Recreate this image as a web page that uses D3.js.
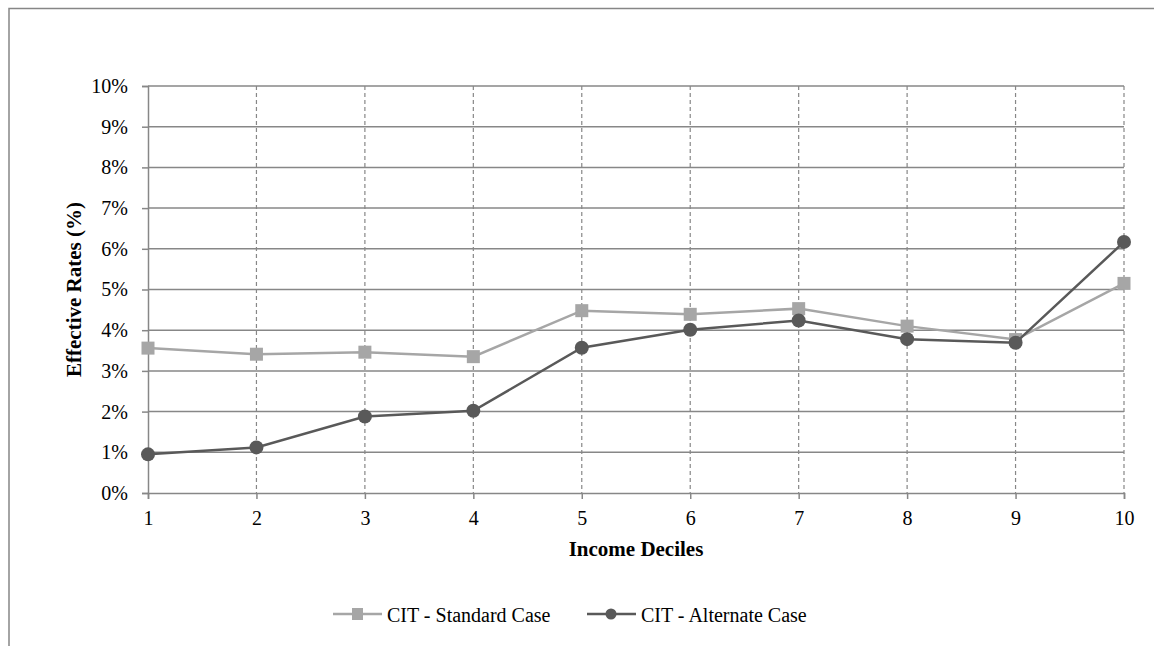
<!DOCTYPE html>
<html>
<head>
<meta charset="utf-8">
<script src="https://cdn.jsdelivr.net/npm/d3@7"></script>
<style>
  body { margin: 0; background: #fff; }
  svg text { font-family: "Liberation Serif", "Times New Roman", serif; fill: #000; }
</style>
</head>
<body>
<div id="chart"></div>
<script>
// data
var deciles = [1, 2, 3, 4, 5, 6, 7, 8, 9, 10];
var standardCase = [3.56, 3.41, 3.46, 3.35, 4.48, 4.39, 4.53, 4.10, 3.77, 5.15];
var alternateCase = [0.95, 1.12, 1.88, 2.02, 3.57, 4.01, 4.24, 3.78, 3.69, 6.17];
var yTicks = [0, 1, 2, 3, 4, 5, 6, 7, 8, 9, 10];
var seriesNames = ["CIT - Standard Case", "CIT - Alternate Case"];

var W = 1154, H = 646;
var margin = {top: 86, right: 30, bottom: 153, left: 148},
    width = 1124 - margin.left,
    height = 493 - margin.top;

var svg = d3.select("#chart")
  .append("svg")
    .attr("width", W)
    .attr("height", H);

// outer frame (runs off right/bottom)
svg.append("rect")
  .attr("x", 9).attr("y", 8.5)
  .attr("width", W + 20).attr("height", H + 20)
  .attr("fill", "none")
  .attr("stroke", "#868686")
  .attr("stroke-width", 1.5);

var g = svg.append("g")
  .attr("transform", "translate(" + margin.left + "," + margin.top + ")");

var x = d3.scaleLinear().domain([1, 10]).range([0, width]);
var y = d3.scaleLinear().domain([0, 10]).range([height, 0]);

var gridColor = "#878787";

// horizontal gridlines
g.append("g")
  .selectAll("line")
  .data(yTicks.slice(1))
  .enter().append("line")
    .attr("x1", 0).attr("x2", width)
    .attr("y1", function(d) { return y(d); })
    .attr("y2", function(d) { return y(d); })
    .attr("stroke", gridColor)
    .attr("stroke-width", 1.5);

// vertical dashed gridlines
g.append("g")
  .selectAll("line")
  .data(deciles.slice(1))
  .enter().append("line")
    .attr("x1", function(d) { return x(d); })
    .attr("x2", function(d) { return x(d); })
    .attr("y1", 0).attr("y2", height)
    .attr("stroke", gridColor)
    .attr("stroke-width", 1.2)
    .attr("stroke-dasharray", "4,3");

// Y axis
var yAxis = g.append("g")
  .call(d3.axisLeft(y).tickValues(yTicks).tickSize(6).tickPadding(14)
    .tickFormat(function(d) { return d + "%"; }));
yAxis.select(".domain").attr("stroke", gridColor).attr("stroke-width", 1.5);
yAxis.selectAll(".tick line").attr("stroke", gridColor).attr("stroke-width", 1.5);
yAxis.selectAll("text").style("font-size", "20px");

// X axis
var xAxis = g.append("g")
  .attr("transform", "translate(0," + height + ")")
  .call(d3.axisBottom(x).tickValues(deciles).tickSize(6).tickPadding(12)
    .tickFormat(d3.format("d")));
xAxis.select(".domain").attr("stroke", gridColor).attr("stroke-width", 1.5);
xAxis.selectAll(".tick line").attr("stroke", gridColor).attr("stroke-width", 1.5);
xAxis.selectAll("text").style("font-size", "20px");

// axis titles
g.append("text")
  .attr("text-anchor", "middle")
  .attr("x", width / 2)
  .attr("y", 556 - margin.top)
  .style("font-size", "21px")
  .attr("font-weight", "bold")
  .text("Income Deciles");

g.append("text")
  .attr("text-anchor", "middle")
  .attr("transform", "rotate(-90)")
  .attr("x", -height / 2)
  .attr("y", -67)
  .style("font-size", "21px")
  .attr("font-weight", "bold")
  .text("Effective Rates (%)");

var line = d3.line()
  .x(function(d, i) { return x(deciles[i]); })
  .y(function(d) { return y(d); });

var stdColor = "#A6A6A6", altColor = "#595959";

// standard case
g.append("path")
  .datum(standardCase)
  .attr("d", line)
  .attr("fill", "none")
  .attr("stroke", stdColor)
  .attr("stroke-width", 2.5);

g.append("g")
  .selectAll("rect")
  .data(standardCase)
  .enter().append("rect")
    .attr("x", function(d, i) { return x(deciles[i]) - 6.5; })
    .attr("y", function(d) { return y(d) - 6.5; })
    .attr("width", 13).attr("height", 13)
    .attr("fill", stdColor);

// alternate case
g.append("path")
  .datum(alternateCase)
  .attr("d", line)
  .attr("fill", "none")
  .attr("stroke", altColor)
  .attr("stroke-width", 2.5);

g.append("g")
  .selectAll("circle")
  .data(alternateCase)
  .enter().append("circle")
    .attr("cx", function(d, i) { return x(deciles[i]); })
    .attr("cy", function(d) { return y(d); })
    .attr("r", 7)
    .attr("fill", altColor);

// legend
var legend = svg.append("g").attr("transform", "translate(0,614)");
var legX = [333, 587];
seriesNames.forEach(function(name, i) {
  var lg = legend.append("g").attr("transform", "translate(" + legX[i] + ",0)");
  var c = i === 0 ? stdColor : altColor;
  lg.append("line")
    .attr("x1", 0).attr("x2", 49)
    .attr("y1", 0).attr("y2", 0)
    .attr("stroke", c).attr("stroke-width", 2.5);
  if (i === 0) {
    lg.append("rect").attr("x", 19).attr("y", -6).attr("width", 11).attr("height", 12).attr("fill", c);
  } else {
    lg.append("circle").attr("cx", 24).attr("cy", 0).attr("r", 5.5).attr("fill", c);
  }
  lg.append("text")
    .attr("x", 54)
    .attr("y", 7.5)
    .style("font-size", "20px")
    .text(name);
});
</script>
</body>
</html>
